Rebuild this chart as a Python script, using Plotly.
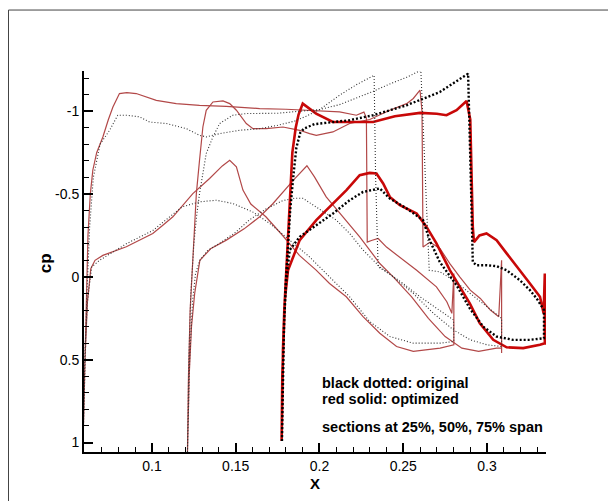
import plotly.graph_objects as go

# ---------------- data: Cp vs X for three span sections ----------------
# Section 1 (25% span) optimized
s1_opt_up_x = [0.0590, 0.0598, 0.0606, 0.0618, 0.0632, 0.0647, 0.0670, 0.0707, 0.0740, 0.0767, 0.0806, 0.0850, 0.0906, 0.0966, 0.1026, 0.1145, 0.1284, 0.1444, 0.1643, 0.1800, 0.1950, 0.2050, 0.2120, 0.2220, 0.2265, 0.2280, 0.2285, 0.2310, 0.2350, 0.2400, 0.2480, 0.2580, 0.2698, 0.2760, 0.2790, 0.2802, 0.2802]
s1_opt_up_cp = [0.95, 0.60, 0.20, -0.25, -0.50, -0.644, -0.75, -0.845, -0.95, -1.026, -1.107, -1.112, -1.107, -1.086, -1.066, -1.046, -1.036, -1.030, -1.016, -1.012, -1.005, -1.0, -0.996, -0.976, -0.995, -0.96, -0.21, -0.22, -0.232, -0.18, -0.12, -0.04, 0.06, 0.15, 0.22, -0.02, 0.41]
s1_opt_lo_x = [0.0590, 0.0600, 0.0615, 0.0635, 0.0660, 0.0707, 0.0847, 0.1005, 0.1065, 0.1125, 0.1244, 0.1344, 0.1420, 0.1464, 0.1504, 0.1543, 0.1590, 0.1680, 0.1780, 0.1880, 0.1980, 0.2060, 0.2160, 0.2260, 0.2360, 0.2460, 0.2560, 0.2720, 0.2802]
s1_opt_lo_cp = [0.95, 0.50, 0.15, -0.05, -0.10, -0.13, -0.182, -0.262, -0.312, -0.363, -0.503, -0.594, -0.67, -0.704, -0.664, -0.524, -0.44, -0.363, -0.25, -0.13, -0.041, 0.04, 0.12, 0.24, 0.34, 0.42, 0.45, 0.43, 0.41]

# Section 1 original
s1_org_up_x = [0.0590, 0.0600, 0.0612, 0.0628, 0.0650, 0.0690, 0.0747, 0.0796, 0.0847, 0.0926, 0.0986, 0.1085, 0.1205, 0.1284, 0.1324, 0.1404, 0.1523, 0.1643, 0.1750, 0.1850, 0.1920, 0.2000, 0.2120, 0.2220, 0.2326, 0.2335, 0.2350, 0.2400, 0.2500, 0.2600, 0.2700, 0.2800, 0.2802]
s1_org_up_cp = [0.95, 0.50, 0.10, -0.30, -0.60, -0.80, -0.885, -0.976, -0.976, -0.966, -0.935, -0.926, -0.895, -0.855, -0.845, -0.865, -0.885, -0.895, -0.915, -0.94, -0.97, -1.01, -1.097, -1.16, -1.217, -0.60, -0.06, -0.03, 0.04, 0.12, 0.19, 0.26, 0.39]
s1_org_lo_x = [0.0590, 0.0600, 0.0615, 0.0640, 0.0687, 0.0747, 0.0847, 0.1005, 0.1065, 0.1180, 0.1284, 0.1384, 0.1483, 0.1600, 0.1703, 0.1822, 0.1940, 0.2080, 0.2180, 0.2300, 0.2420, 0.2560, 0.2720, 0.2802]
s1_org_lo_cp = [0.95, 0.45, 0.15, -0.06, -0.10, -0.14, -0.20, -0.28, -0.33, -0.423, -0.453, -0.463, -0.443, -0.393, -0.323, -0.222, -0.121, 0.02, 0.12, 0.27, 0.36, 0.40, 0.40, 0.39]

# Section 2 (50% span) optimized
s2_opt_up_x = [0.1212, 0.1218, 0.1228, 0.1244, 0.1255, 0.1265, 0.1284, 0.1304, 0.1324, 0.1364, 0.1424, 0.1464, 0.1504, 0.1563, 0.1603, 0.1683, 0.1782, 0.1882, 0.1941, 0.1981, 0.2080, 0.2180, 0.2300, 0.2420, 0.2520, 0.2560, 0.2600, 0.2612, 0.2618, 0.2660, 0.2720, 0.2778, 0.2837, 0.2900, 0.2960, 0.3020, 0.3070, 0.3087, 0.3087]
s2_opt_up_cp = [1.06, 0.60, 0.20, -0.10, -0.302, -0.503, -0.704, -0.905, -1.006, -1.056, -1.062, -1.046, -1.006, -0.926, -0.895, -0.895, -0.905, -0.885, -0.865, -0.855, -0.875, -0.926, -0.95, -1.006, -1.046, -1.077, -1.127, -1.0, -0.18, -0.21, -0.17, -0.08, 0.0, 0.08, 0.13, 0.20, 0.24, -0.10, 0.46]
s2_opt_lo_x = [0.1212, 0.1222, 0.1236, 0.1255, 0.1286, 0.1350, 0.1444, 0.1550, 0.1643, 0.1720, 0.1780, 0.1850, 0.1925, 0.1970, 0.2040, 0.2140, 0.2240, 0.2360, 0.2440, 0.2550, 0.2650, 0.2750, 0.2850, 0.2950, 0.3057, 0.3087]
s2_opt_lo_cp = [1.06, 0.60, 0.30, 0.10, -0.10, -0.17, -0.222, -0.29, -0.363, -0.44, -0.51, -0.59, -0.671, -0.604, -0.483, -0.363, -0.242, -0.081, 0.0, 0.12, 0.25, 0.36, 0.43, 0.45, 0.43, 0.43]

# Section 2 original
s2_org_up_x = [0.1212, 0.1220, 0.1232, 0.1250, 0.1268, 0.1284, 0.1324, 0.1364, 0.1404, 0.1483, 0.1563, 0.1643, 0.1750, 0.1880, 0.2000, 0.2120, 0.2220, 0.2320, 0.2420, 0.2520, 0.2605, 0.2630, 0.2655, 0.2720, 0.2800, 0.2900, 0.3000, 0.3087, 0.3087]
s2_org_up_cp = [1.06, 0.50, 0.10, -0.20, -0.38, -0.503, -0.745, -0.845, -0.926, -0.976, -0.986, -0.986, -0.988, -1.0, -1.01, -1.04, -1.08, -1.12, -1.165, -1.205, -1.247, -0.60, -0.04, -0.03, 0.02, 0.10, 0.18, 0.25, 0.42]
s2_org_lo_x = [0.1212, 0.1225, 0.1242, 0.1260, 0.1286, 0.1333, 0.1400, 0.1500, 0.1580, 0.1680, 0.1780, 0.1850, 0.1900, 0.1980, 0.2100, 0.2180, 0.2260, 0.2360, 0.2440, 0.2560, 0.2680, 0.2800, 0.2900, 0.3000, 0.3087]
s2_org_lo_cp = [1.06, 0.50, 0.15, -0.02, -0.10, -0.16, -0.20, -0.27, -0.343, -0.41, -0.46, -0.475, -0.475, -0.423, -0.343, -0.262, -0.162, -0.061, 0.0, 0.10, 0.22, 0.32, 0.38, 0.41, 0.42]

# Section 3 (75% span) optimized
s3_opt_up_x = [0.1774, 0.1778, 0.1782, 0.1790, 0.1798, 0.1812, 0.1825, 0.1838, 0.1858, 0.1875, 0.1900, 0.1920, 0.1980, 0.2080, 0.2180, 0.2320, 0.2450, 0.2550, 0.2600, 0.2700, 0.2758, 0.2818, 0.2878, 0.2900, 0.2915, 0.2922, 0.2955, 0.2997, 0.3057, 0.3117, 0.3196, 0.3256, 0.3316, 0.3338, 0.3345, 0.3345]
s3_opt_up_cp = [0.99, 0.70, 0.44, 0.20, 0.04, -0.30, -0.55, -0.75, -0.90, -0.98, -1.046, -1.03, -0.986, -0.935, -0.935, -0.935, -0.97, -0.985, -0.99, -0.985, -0.976, -1.006, -1.062, -0.95, -0.30, -0.21, -0.25, -0.262, -0.222, -0.142, -0.041, 0.04, 0.12, 0.22, -0.02, 0.41]
s3_opt_lo_x = [0.1774, 0.1778, 0.1785, 0.1793, 0.1812, 0.1852, 0.1882, 0.1981, 0.2081, 0.2161, 0.2240, 0.2300, 0.2340, 0.2380, 0.2420, 0.2480, 0.2580, 0.2639, 0.2698, 0.2778, 0.2897, 0.2957, 0.3037, 0.3117, 0.3216, 0.3316, 0.3345]
s3_opt_lo_cp = [0.99, 0.60, 0.35, 0.14, -0.04, -0.14, -0.222, -0.343, -0.443, -0.524, -0.614, -0.628, -0.624, -0.564, -0.483, -0.433, -0.383, -0.302, -0.202, -0.041, 0.16, 0.28, 0.38, 0.425, 0.43, 0.41, 0.40]

# Section 3 original
s3_org_up_x = [0.1776, 0.1781, 0.1788, 0.1798, 0.1810, 0.1825, 0.1845, 0.1862, 0.1885, 0.1908, 0.1970, 0.2080, 0.2180, 0.2320, 0.2520, 0.2718, 0.2887, 0.2903, 0.2915, 0.2937, 0.3000, 0.3057, 0.3117, 0.3196, 0.3256, 0.3296, 0.3340, 0.3340]
s3_org_up_cp = [0.99, 0.60, 0.30, 0.05, -0.15, -0.40, -0.62, -0.78, -0.87, -0.896, -0.922, -0.935, -0.946, -0.976, -1.036, -1.116, -1.227, -0.60, -0.09, -0.07, -0.07, -0.065, -0.04, 0.02, 0.08, 0.13, 0.20, 0.37]
s3_org_lo_x = [0.1776, 0.1782, 0.1790, 0.1800, 0.1822, 0.1882, 0.1981, 0.2081, 0.2180, 0.2260, 0.2360, 0.2420, 0.2520, 0.2618, 0.2658, 0.2718, 0.2818, 0.2897, 0.2977, 0.3057, 0.3156, 0.3256, 0.3340]
s3_org_lo_cp = [0.99, 0.55, 0.25, 0.05, -0.162, -0.242, -0.312, -0.383, -0.463, -0.513, -0.534, -0.473, -0.413, -0.343, -0.22, -0.09, 0.05, 0.19, 0.30, 0.36, 0.38, 0.38, 0.37]

y_tick_vals = [-1, -0.5, 0, 0.5, 1]
y_tick_text = ["-1", "-0.5", "0", "0.5", "1"]
x_tick_vals = [0.1, 0.15, 0.2, 0.25, 0.3]
x_tick_text = ["0.1", "0.15", "0.2", "0.25", "0.3"]

note_lines = ["black dotted: original", "red solid: optimized", "sections at 25%, 50%, 75% span"]


def loop(ux, ucp, lx, lcp):
    return list(ux) + list(reversed(lx)), list(ucp) + list(reversed(lcp))


THIN_RED = dict(color="rgb(178,72,72)", width=1.2)
THICK_RED = dict(color="rgb(200,8,8)", width=2.6)
THIN_DOT = dict(color="rgb(50,50,50)", width=1.1, dash="1px,2px")
THICK_DOT = dict(color="black", width=2.4, dash="2px,2px")

curves = [
    (s1_opt_up_x, s1_opt_up_cp, s1_opt_lo_x, s1_opt_lo_cp, THIN_RED, "25% optimized"),
    (s2_opt_up_x, s2_opt_up_cp, s2_opt_lo_x, s2_opt_lo_cp, THIN_RED, "50% optimized"),
    (s3_opt_up_x, s3_opt_up_cp, s3_opt_lo_x, s3_opt_lo_cp, THICK_RED, "75% optimized"),
    (s1_org_up_x, s1_org_up_cp, s1_org_lo_x, s1_org_lo_cp, THIN_DOT, "25% original"),
    (s2_org_up_x, s2_org_up_cp, s2_org_lo_x, s2_org_lo_cp, THIN_DOT, "50% original"),
    (s3_org_up_x, s3_org_up_cp, s3_org_lo_x, s3_org_lo_cp, THICK_DOT, "75% original"),
]

fig = go.Figure()
for ux, ucp, lx, lcp, style, name in curves:
    xs, ys = loop(ux, ucp, lx, lcp)
    fig.add_trace(go.Scatter(x=xs, y=ys, mode="lines", line=style, name=name,
                             showlegend=False, hoverinfo="skip"))

FONT = "Liberation Sans, Arial, sans-serif"

axis_common = dict(
    showline=True, linecolor="black", linewidth=2, mirror=False,
    showgrid=False, zeroline=False,
    ticks="inside", ticklen=9, tickwidth=2, tickcolor="black",
    tickfont=dict(family=FONT, size=14, color="black"),
    tickmode="array",
)

fig.update_xaxes(**axis_common, range=[0.05944, 0.3352],
                 tickvals=x_tick_vals, ticktext=x_tick_text,
                 minor=dict(tick0=0, dtick=0.01, ticks="inside", ticklen=5,
                            tickwidth=1, tickcolor="black"))
fig.update_yaxes(**axis_common, range=[1.057, -1.243],
                 tickvals=y_tick_vals, ticktext=y_tick_text,
                 minor=dict(tick0=0, dtick=0.1, ticks="inside", ticklen=5,
                            tickwidth=1, tickcolor="black"))

annotations = [
    dict(text="<b>X</b>", xref="paper", yref="paper", x=0.5, y=-0.083,
         xanchor="center", yanchor="middle", showarrow=False,
         font=dict(family=FONT, size=15, color="black")),
    dict(text="<b>cp</b>", xref="paper", yref="paper", x=-0.084, y=0.496,
         xanchor="center", yanchor="middle", textangle=-90, showarrow=False,
         font=dict(family=FONT, size=17, color="black")),
]
for txt, yy in zip(note_lines, [0.181, 0.139, 0.066]):
    annotations.append(dict(text="<b>" + txt + "</b>", xref="paper", yref="paper",
                            x=0.51, y=yy, xanchor="left", yanchor="middle",
                            showarrow=False,
                            font=dict(family=FONT, size=14.5, color="black")))

# the page body adds an 8px offset, so the figure is 8px smaller and margins shifted
fig.update_layout(
    width=608, height=493,
    margin=dict(l=76, r=70, t=63, b=49),
    paper_bgcolor="white", plot_bgcolor="white",
    annotations=annotations,
    shapes=[dict(type="rect", xref="paper", yref="paper",
                 x0=-0.1634, x1=1.1407, y0=-0.16, y1=1.160,
                 line=dict(color="#444", width=1), fillcolor="rgba(0,0,0,0)",
                 layer="below")],
)

fig.write_html("out.html")
